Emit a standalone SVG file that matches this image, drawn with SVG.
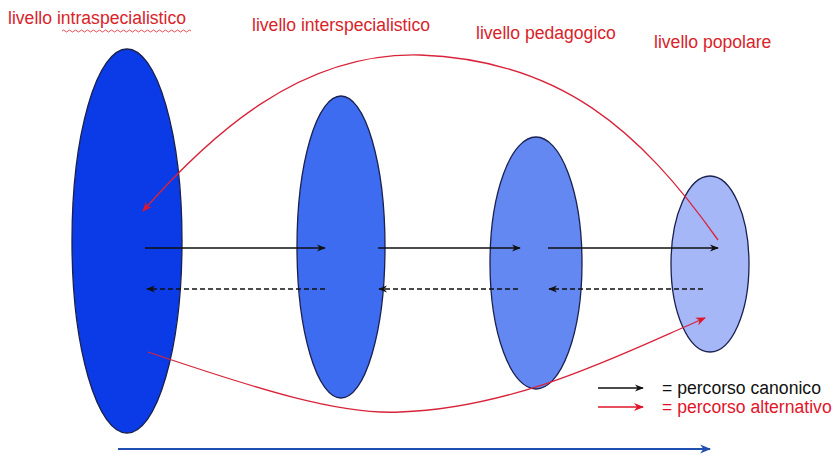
<svg xmlns="http://www.w3.org/2000/svg" width="837" height="456" viewBox="0 0 837 456">
<style>
.lbl{font-family:"Liberation Sans",Arial,sans-serif;font-size:17.6px;fill:#d8232a}
.leg{font-family:"Liberation Sans",Arial,sans-serif;font-size:17.6px}
.ell{stroke:#1a2050;stroke-width:1.3}
.blk{stroke:#111;stroke-width:1.4;fill:none}
.dsh{stroke:#111;stroke-width:1.4;fill:none;stroke-dasharray:5,3}
.red{stroke:#d8233a;stroke-width:1.3;fill:none}
</style>
<defs>
<marker id="ab" viewBox="0 0 10 10" refX="9" refY="5" markerWidth="9" markerHeight="9" markerUnits="userSpaceOnUse" orient="auto"><path d="M0,1 L10,5 L0,9 L3,5 Z" fill="#111"/></marker>
<marker id="ar" viewBox="0 0 10 10" refX="9" refY="5" markerWidth="10" markerHeight="10" markerUnits="userSpaceOnUse" orient="auto"><path d="M0,1 L10,5 L0,9 L3,5 Z" fill="#e0152a"/></marker>
<marker id="abl" viewBox="0 0 10 10" refX="9" refY="5" markerWidth="11" markerHeight="11" markerUnits="userSpaceOnUse" orient="auto"><path d="M0,1 L10,5 L0,9 L3,5 Z" fill="#1f4fb0"/></marker>
</defs>
<rect width="837" height="456" fill="#fff"/>
<g id="labels">
<text class="lbl" x="8" y="24">livello intraspecialistico</text>
<path d="M62,31 q1.5,-2 3,0 t3,0 t3,0 t3,0 t3,0 t3,0 t3,0 t3,0 t3,0 t3,0 t3,0 t3,0 t3,0 t3,0 t3,0 t3,0 t3,0 t3,0 t3,0 t3,0 t3,0 t3,0 t3,0 t3,0 t3,0 t3,0 t3,0 t3,0 t3,0 t3,0 t3,0 t3,0 t3,0 t3,0 t3,0 t3,0 t3,0 t3,0 t3,0 t3,0 t3,0 t3,0 t3,0" fill="none" stroke="#d8232a" stroke-width="0.8"/>
<text class="lbl" x="252" y="31">livello interspecialistico</text>
<text class="lbl" x="476" y="39">livello pedagogico</text>
<text class="lbl" x="654" y="48">livello popolare</text>
</g>
<g id="node1"><ellipse class="ell" cx="127" cy="241" rx="55" ry="192" fill="#0a3be6"/></g>
<g id="node2"><ellipse class="ell" cx="341" cy="247" rx="44" ry="151" fill="#3d6cf0"/></g>
<g id="node3"><ellipse class="ell" cx="536" cy="263" rx="46" ry="126" fill="#6488f2"/></g>
<g id="node4"><ellipse class="ell" cx="710" cy="264" rx="39" ry="88" fill="#a5b7f6"/></g>
<g id="connectors">
<path class="blk" d="M145,248 H325" marker-end="url(#ab)"/>
<path class="blk" d="M378,248 H520" marker-end="url(#ab)"/>
<path class="blk" d="M548,248 H718" marker-end="url(#ab)"/>
<path class="dsh" d="M325,289 H147" marker-end="url(#ab)"/>
<path class="dsh" d="M518,289 H379" marker-end="url(#ab)"/>
<path class="dsh" d="M703,289 H549" marker-end="url(#ab)"/>
<path class="red" d="M718,240 C640,130 560,60 420,55 C300,52 210,135 143,211" marker-end="url(#ar)"/>
<path class="red" d="M148,352 C260,390 340,415 400,412 C520,408 630,350 705,318" marker-end="url(#ar)"/>
<path d="M118,449 H710" stroke="#1f4fb0" stroke-width="2" fill="none" marker-end="url(#abl)"/>
</g>
<g id="legend">
<path class="blk" d="M598,388 H643" marker-end="url(#ab)"/>
<path d="M598,407 H643" stroke="#e0152a" stroke-width="1.4" fill="none" marker-end="url(#ar)"/>
<text class="leg" x="662" y="394" fill="#111">= percorso canonico</text>
<text class="leg" x="662" y="413" fill="#e0152a">= percorso alternativo</text>
</g>
</svg>
